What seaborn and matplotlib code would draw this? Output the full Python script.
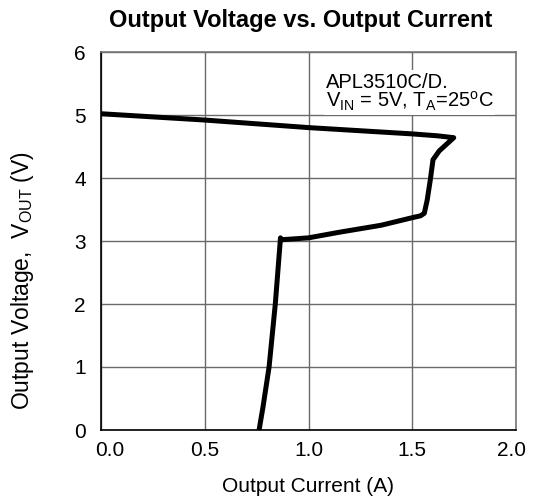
import numpy as np
import pandas as pd
import matplotlib
matplotlib.use("Agg")
import matplotlib.pyplot as plt
from matplotlib.transforms import ScaledTranslation
import seaborn as sns

# ---- data ----
current = [0.00, 0.25, 0.50, 0.75, 1.00, 1.25, 1.50, 1.62, 1.70,
           1.63, 1.60, 1.587, 1.572, 1.558, 1.54, 1.50, 1.35, 1.15, 1.00,
           0.87, 0.865, 0.84, 0.81, 0.78, 0.768, 0.762]
voltage = [5.02, 4.97, 4.92, 4.86, 4.80, 4.75, 4.70, 4.67, 4.64,
           4.43, 4.29, 3.97, 3.65, 3.44, 3.40, 3.37, 3.25, 3.14, 3.05,
           3.02, 3.05, 2.00, 1.00, 0.35, 0.12, 0.00]
x_ticks = [0.0, 0.5, 1.0, 1.5, 2.0]
x_tick_labels = ["0.0", "0.5", "1.0", "1.5", "2.0"]
y_ticks = [0, 1, 2, 3, 4, 5, 6]
y_tick_labels = ["0", "1", "2", "3", "4", "5", "6"]
title = "Output Voltage vs. Output Current"
x_label = "Output Current (A)"
y_label = r"Output Voltage,  V$_{\mathrm{OUT}}$ (V)"
note1 = "APL3510C/D,"
note2 = r"V$_{\mathrm{IN}}$ = 5V, T$_{\mathrm{A}}$=25$^{\mathrm{o}}$C"

sns.set_style("white")
plt.rcParams["font.family"] = ["Liberation Sans", "DejaVu Sans"]
plt.rcParams["mathtext.fontset"] = "custom"
plt.rcParams["mathtext.rm"] = "Liberation Sans"
plt.rcParams["mathtext.it"] = "Liberation Sans:italic"
plt.rcParams["mathtext.bf"] = "Liberation Sans:bold"
plt.rcParams["text.color"] = "black"
plt.rcParams["axes.labelcolor"] = "black"
plt.rcParams["xtick.color"] = "black"
plt.rcParams["ytick.color"] = "black"

W, H = 535, 501
fig = plt.figure(figsize=(W / 100, H / 100), dpi=100)
ax = fig.add_axes([101 / W, (H - 430) / H, 415 / W, 378 / H])

df = pd.DataFrame({"current": current, "voltage": voltage})
sns.lineplot(data=df, x="current", y="voltage", sort=False, estimator=None,
             color="black", lw=3.6, ax=ax,
             solid_joinstyle="round", solid_capstyle="round")

ax.set_xlim(0, 2)
ax.set_ylim(0, 6)
ax.set_xticks(x_ticks)
ax.set_xticklabels(x_tick_labels)
ax.set_yticks(y_ticks)
ax.set_yticklabels(y_tick_labels)
ax.grid(True, color="#6a6a6a", lw=1)
ax.set_axisbelow(True)
for s in ["left", "bottom"]:
    ax.spines[s].set_color("black")
    ax.spines[s].set_linewidth(1.2)
for s in ["top", "right"]:
    ax.spines[s].set_color("#777777")
    ax.spines[s].set_linewidth(1.2)
ax.tick_params(axis="both", length=0, labelsize=15, colors="black")
ax.tick_params(axis="x", pad=8)
ax.tick_params(axis="y", pad=11)

ax.set_xlabel(x_label, fontsize=15, labelpad=12)
ax.set_ylabel(y_label, fontsize=16.5)
ax.yaxis.set_label_coords((36 - 101) / 415, (430 - 281) / 378)

fig.text(301 / W, 1 - 20 / H, title, ha="center", va="center",
         fontsize=17, fontweight="bold")

bb = dict(facecolor="white", edgecolor="none", pad=1.5)
ax.text(1.082, 5.44, note1, fontsize=14.5, ha="left", va="baseline", bbox=bb)
ax.text(1.082, 5.12, note2, fontsize=14.5, ha="left", va="baseline", bbox=bb)

xl = ax.get_xticklabels()
xl[0].set_transform(xl[0].get_transform() + ScaledTranslation(9 / 100, 0, fig.dpi_scale_trans))
xl[-1].set_transform(xl[-1].get_transform() + ScaledTranslation(-4 / 100, 0, fig.dpi_scale_trans))

fig.savefig("out.png", dpi=100)
